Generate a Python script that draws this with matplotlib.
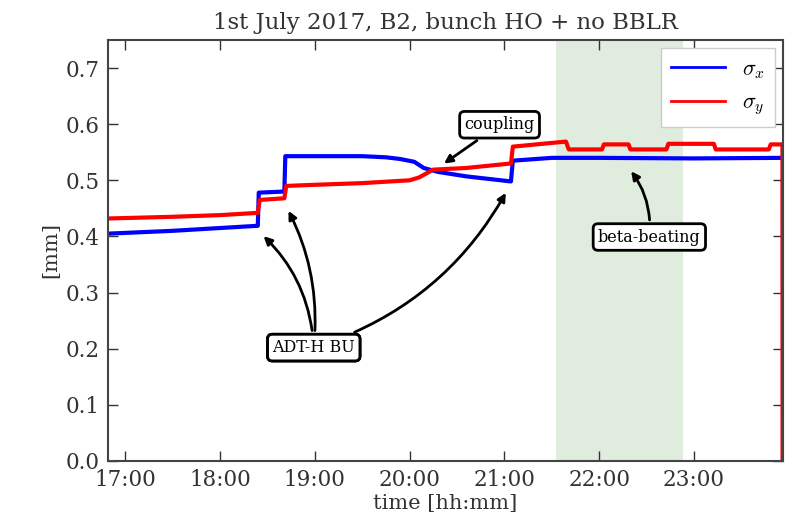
import numpy as np
import pandas as pd
import matplotlib
matplotlib.use('Agg')
import matplotlib.pyplot as plt
import matplotlib.dates as mdates

plt.rcParams['font.family'] = ['DejaVu Serif']
plt.rcParams['mathtext.fontset'] = 'cm'

# time in decimal hours on 1st July 2017
t_x = [16.82, 17.5, 18.0, 18.40, 18.41, 18.68, 18.69, 19.5, 19.75, 19.9, 20.05, 20.15,
       20.3, 20.6, 21.07, 21.09, 21.5, 22.0, 23.0, 23.94]
sigma_x = [0.405, 0.410, 0.415, 0.419, 0.478, 0.480, 0.543, 0.543, 0.541, 0.538, 0.533, 0.522,
           0.515, 0.507, 0.498, 0.535, 0.540, 0.540, 0.539, 0.540]

t_y = [16.82, 17.5, 18.0, 18.40, 18.42, 18.68, 18.70, 19.0, 19.5, 20.0, 20.1, 20.25, 20.6,
       21.07, 21.09, 21.4, 21.65, 21.68, 22.03, 22.05, 22.31, 22.33, 22.71, 22.73, 23.21,
       23.23, 23.79, 23.81, 23.934, 23.935]
sigma_y = [0.432, 0.435, 0.438, 0.442, 0.465, 0.468, 0.490, 0.492, 0.495, 0.500, 0.505, 0.519, 0.522,
           0.530, 0.560, 0.565, 0.569, 0.555, 0.555, 0.564, 0.564, 0.555, 0.555, 0.565, 0.565,
           0.555, 0.555, 0.564, 0.564, 0.0]

span = (21.54, 22.88)
xlim = (16.82, 23.94)

day = pd.Timestamp('2017-07-01')
def to_dt(h):
    return day + pd.Timedelta(hours=h)

fig = plt.figure(figsize=(7.85, 5.26), dpi=100)
ax = fig.add_axes([0.1376, 0.1236, 0.8599, 0.8004])

ax.axvspan(to_dt(span[0]), to_dt(span[1]), color='#e0ecde', lw=0, zorder=0)
ax.plot([to_dt(h) for h in t_x], sigma_x, color='blue', lw=3, label=r'$\sigma_x$')
ax.plot([to_dt(h) for h in t_y], sigma_y, color='red', lw=3, label=r'$\sigma_y$')

ax.set_xlim(to_dt(xlim[0]), to_dt(xlim[1]))
ax.set_ylim(0, 0.75)
ax.set_yticks(np.arange(0, 0.71, 0.1))
ax.xaxis.set_major_locator(mdates.HourLocator())
ax.xaxis.set_major_formatter(mdates.DateFormatter('%H:%M'))
ax.tick_params(direction='in', top=True, right=True, length=7, width=1, labelsize=15.5,
               colors='#333333', pad=6)
for s in ax.spines.values():
    s.set_linewidth(1.5)
    s.set_color('#444444')

ax.set_xlabel('time [hh:mm]', fontsize=15, color='#333333', labelpad=2)
ax.set_ylabel('[mm]', fontsize=15, color='#333333')
ax.set_title('1st July 2017, B2, bunch HO + no BBLR', fontsize=16.5, color='#333333', pad=8)

leg = ax.legend(loc='upper right', fontsize=16, handlelength=2.4, borderpad=0.45, labelspacing=0.5,
                borderaxespad=0.35, fancybox=False, framealpha=1)
leg.get_frame().set_edgecolor('#cccccc')
for ln in leg.get_lines():
    ln.set_linewidth(2)

bbox = dict(boxstyle='round,pad=0.3', fc='white', ec='black', lw=2)
arrow = dict(arrowstyle='-|>', color='black', lw=2, mutation_scale=12)

def ann(text, xy, xytext, rad):
    ax.annotate(text, xy=(to_dt(xy[0]), xy[1]), xytext=(to_dt(xytext[0]), xytext[1]),
                fontsize=11.5, ha='center', va='center', bbox=bbox,
                arrowprops=dict(arrow, connectionstyle='arc3,rad=%s' % rad))

ann('coupling', (20.34, 0.527), (20.95, 0.599), 0.0)
ann('beta-beating', (22.32, 0.52), (22.53, 0.399), 0.2)
ann('ADT-H BU', (18.44, 0.404), (18.99, 0.202), 0.2)
ann('ADT-H BU', (18.71, 0.45), (18.99, 0.202), 0.15)
ann('ADT-H BU', (21.03, 0.482), (18.99, 0.202), 0.2)

fig.savefig('out.png', dpi=100)
